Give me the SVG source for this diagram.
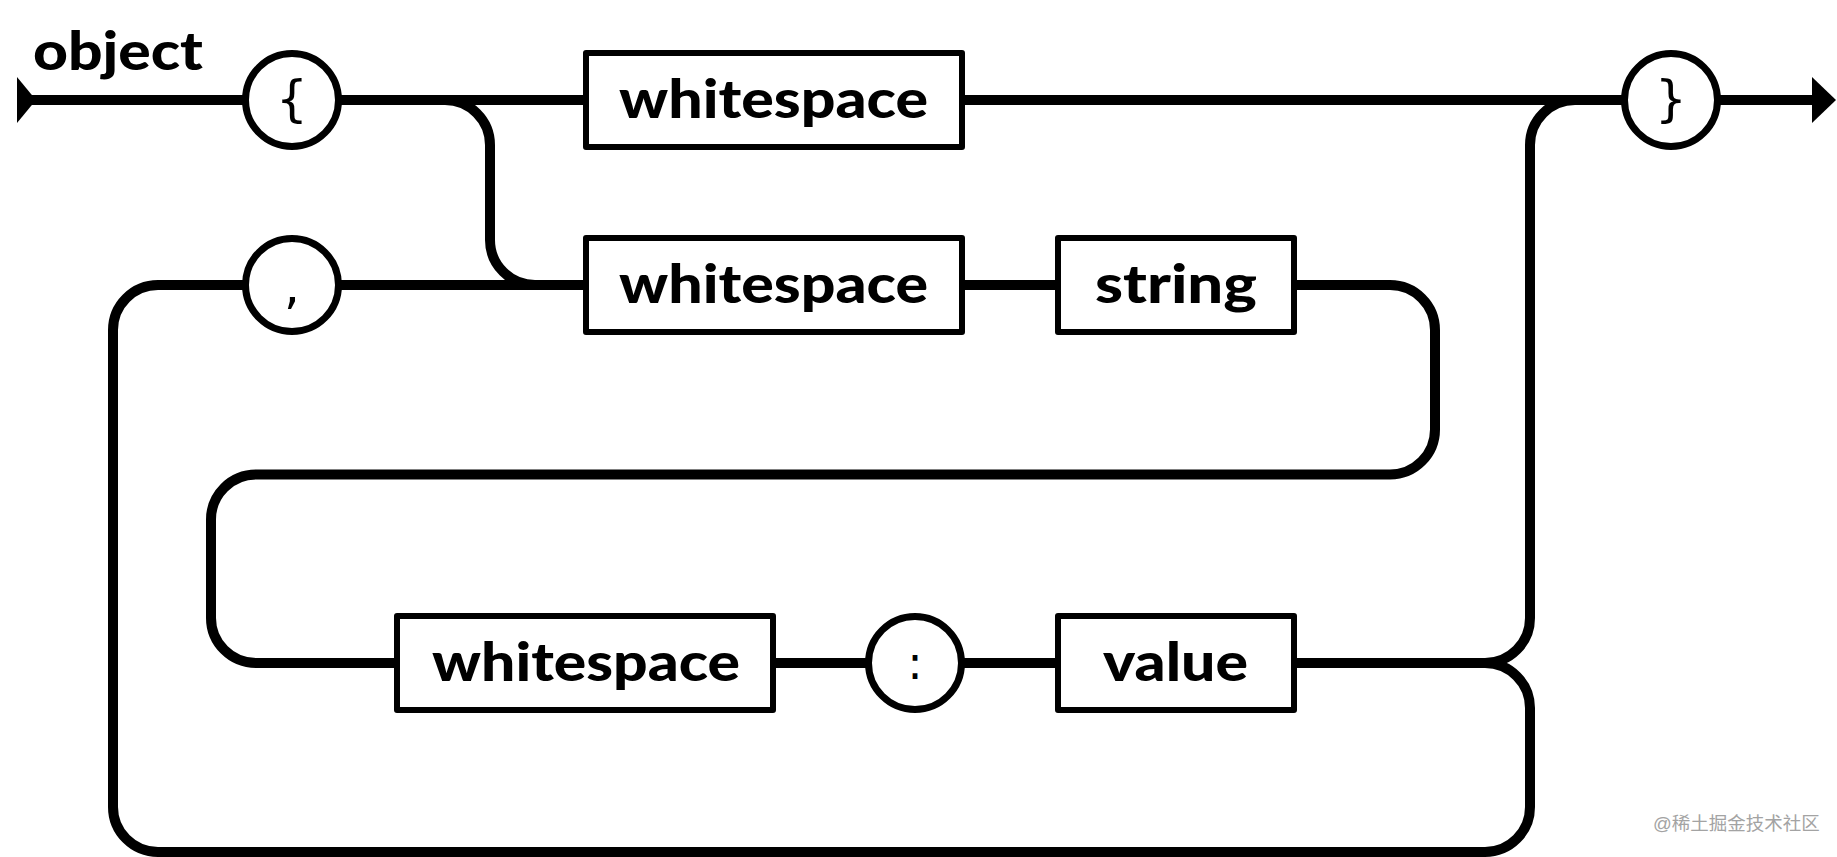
<svg xmlns="http://www.w3.org/2000/svg" width="1837" height="857" viewBox="0 0 1837 857">
<style>
.ln{fill:none;stroke:#000;stroke-width:10}
.box{fill:#fff;stroke:#000;stroke-width:6;stroke-linejoin:round}
.circ{fill:#fff;stroke:#000;stroke-width:7}
.lbl{font-family:Lato,"Open Sans","Liberation Sans",sans-serif;font-weight:900;font-size:54px;fill:#000}
.pun{font-family:"DejaVu Sans","Liberation Sans",sans-serif;font-weight:normal;fill:#000;text-anchor:middle}
.wm{font-family:"Liberation Sans","Noto Sans CJK SC",sans-serif;font-size:18.5px;fill:#a3a3a3}
</style>
<rect width="1837" height="857" fill="#fff"/>
<text id="title" class="lbl" x="33" y="70" textLength="170" lengthAdjust="spacingAndGlyphs">object</text>
<g id="connectors">
<polygon points="17,77 17,123 36,100" fill="#000"/>
<path class="ln" d="M30 100 H245"/>
<path class="ln" d="M339 100 H586"/>
<path class="ln" d="M445 100 A45 45 0 0 1 490 145 V240 A45 45 0 0 0 535 285 H586"/>
<path class="ln" d="M339 285 H586"/>
<path class="ln" d="M962 285 H1058"/>
<path class="ln" d="M1294 285 H1390 A45 45 0 0 1 1435 330 V429.5 A45 45 0 0 1 1390 474.5 H256 A45 45 0 0 0 211 519.5 V618 A45 45 0 0 0 256 663 H397"/>
<path class="ln" d="M773 663 H869"/>
<path class="ln" d="M961 663 H1058"/>
<path class="ln" d="M1294 663 H1485 A45 45 0 0 1 1530 708 V807 A45 45 0 0 1 1485 852 H158 A45 45 0 0 1 113 807 V330 A45 45 0 0 1 158 285 H245"/>
<path class="ln" d="M962 100 H1624"/>
<path class="ln" d="M1718 100 H1815"/>
<path class="ln" d="M1485 663 A45 45 0 0 0 1530 618 V145 A45 45 0 0 1 1575 100"/>
<polygon points="1812,77 1812,123 1836,100" fill="#000"/>
</g>
<g id="node-open">
<circle class="circ" cx="292" cy="100" r="46.5"/>
<text class="pun" x="292" y="116" font-size="50">{</text>
</g>
<g id="node-ws1">
<rect class="box" x="586" y="53" width="376" height="94"/>
<text class="lbl" x="619" y="118" textLength="309" lengthAdjust="spacingAndGlyphs">whitespace</text>
</g>
<g id="node-comma">
<circle class="circ" cx="292" cy="285" r="46.5"/>
<text class="pun" x="292" y="303" font-size="50">,</text>
</g>
<g id="node-ws2">
<rect class="box" x="586" y="238" width="376" height="94"/>
<text class="lbl" x="619" y="303" textLength="309" lengthAdjust="spacingAndGlyphs">whitespace</text>
</g>
<g id="node-string">
<rect class="box" x="1058" y="238" width="236" height="94"/>
<text class="lbl" x="1095" y="303" textLength="162" lengthAdjust="spacingAndGlyphs">string</text>
</g>
<g id="node-ws3">
<rect class="box" x="397" y="616" width="376" height="94"/>
<text class="lbl" x="432" y="681" textLength="308" lengthAdjust="spacingAndGlyphs">whitespace</text>
</g>
<g id="node-colon">
<circle class="circ" cx="915" cy="663" r="46.5"/>
<text class="pun" x="915" y="679" font-size="46">:</text>
</g>
<g id="node-value">
<rect class="box" x="1058" y="616" width="236" height="94"/>
<text class="lbl" x="1103" y="681" textLength="145" lengthAdjust="spacingAndGlyphs">value</text>
</g>
<g id="node-close">
<circle class="circ" cx="1671" cy="100" r="46.5"/>
<text class="pun" x="1671" y="116" font-size="50">}</text>
</g>
<text class="wm" x="1653" y="830">@稀土掘金技术社区</text>
</svg>
